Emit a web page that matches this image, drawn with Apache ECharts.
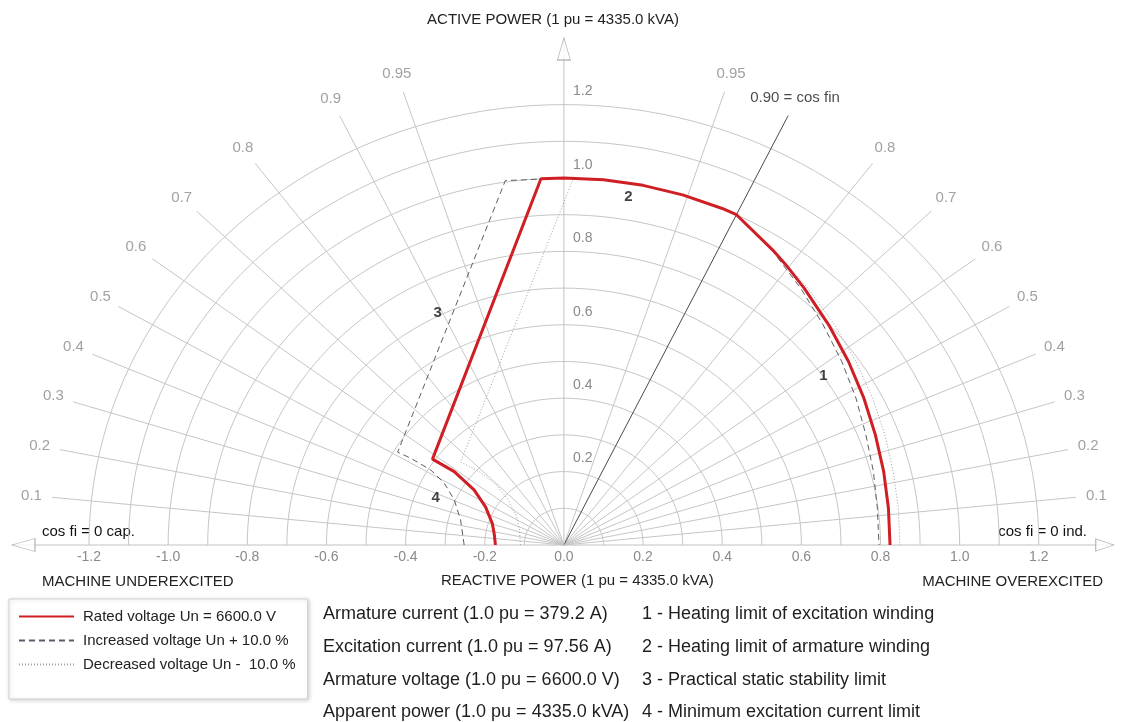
<!DOCTYPE html>
<html><head><meta charset="utf-8">
<script src="https://cdn.jsdelivr.net/npm/echarts@6/dist/echarts.min.js"></script>
<style>html,body{margin:0;padding:0;background:#fff}#c{width:1121px;height:722px}</style>
</head><body><div id="c"></div>
<script>
const FONT = '"Liberation Sans", Arial, sans-serif';

// ---- grid definition (pu) ----
const arcRadii = [0.1, 0.2, 0.3, 0.4, 0.5, 0.6, 0.7, 0.8, 0.9, 1.0, 1.1, 1.2];
const cosLeft = [0.1, 0.2, 0.3, 0.4, 0.5, 0.6, 0.7, 0.8, 0.9, 0.95];
const cosRight = [0.1, 0.2, 0.3, 0.4, 0.5, 0.6, 0.7, 0.8, 0.95];
const cosRatedValue = 0.90;
const cosLabelRight = '0.90 = cos fin';
const radialLength = 1.3;
const cosLabelRadius = 1.352;

// ---- capability curves [Q, P] in pu ----
const ratedCurve = [
  [-0.173, 0.000], [-0.176, 0.030], [-0.181, 0.059], [-0.198, 0.104], [-0.227, 0.150], [-0.277, 0.200], [-0.332, 0.234],
  [-0.058, 0.998], [0.000, 1.000], [0.100, 0.995], [0.200, 0.980], [0.300, 0.954], [0.400, 0.917], [0.436, 0.900],
  [0.531, 0.800], [0.565, 0.758], [0.607, 0.700], [0.669, 0.600], [0.719, 0.500], [0.758, 0.400], [0.787, 0.300],
  [0.808, 0.200], [0.820, 0.100], [0.824, 0.000]
];
const increasedCurve = [
  [-0.252, 0.000], [-0.261, 0.068], [-0.277, 0.123], [-0.302, 0.168], [-0.336, 0.204], [-0.386, 0.236], [-0.420, 0.253],
  [-0.148, 0.993], [-0.100, 0.995], [0.000, 1.000], [0.100, 0.995], [0.200, 0.980], [0.300, 0.954], [0.400, 0.917], [0.436, 0.900],
  [0.528, 0.800], [0.598, 0.700], [0.655, 0.600], [0.702, 0.500], [0.738, 0.400], [0.763, 0.300],
  [0.782, 0.200], [0.792, 0.100], [0.796, 0.000]
];
const decreasedCurve = [
  [-0.110, 0.000], [-0.112, 0.040], [-0.120, 0.080], [-0.142, 0.125], [-0.172, 0.165], [-0.214, 0.200], [-0.261, 0.226],
  [0.024, 0.999], [0.100, 0.995], [0.200, 0.980], [0.300, 0.954], [0.400, 0.917], [0.436, 0.900],
  [0.534, 0.800], [0.616, 0.700], [0.684, 0.600], [0.738, 0.500], [0.780, 0.400], [0.811, 0.300],
  [0.832, 0.200], [0.845, 0.100], [0.849, 0.000]
];
const curveNumbers = [['1', 0.656, 0.460], ['2', 0.163, 0.948], ['3', -0.319, 0.632], ['4', -0.324, 0.128]];

const seriesNames = ['Rated voltage Un = 6600.0 V', 'Increased voltage Un + 10.0 %', 'Decreased voltage Un -  10.0 %'];
const infoLines = ['Armature current (1.0 pu = 379.2 A)', 'Excitation current (1.0 pu = 97.56 A)',
  'Armature voltage (1.0 pu = 6600.0 V)', 'Apparent power (1.0 pu = 4335.0 kVA)'];
const limitLines = ['1 - Heating limit of excitation winding', '2 - Heating limit of armature winding',
  '3 - Practical static stability limit', '4 - Minimum excitation current limit'];

// ---- layout constants (pixels) ----
const GRID_LEFT = 9.8, GRID_TOP = 31.2, GRID_W = 1114.4, GRID_H = 587.2;
const ORIGIN_X = 567, ORIGIN_Y = 545;

// ---- build ----
const GRID_COLOR = '#c6c6c6';
const series = [];
function plain(data, color, width, type, z) {
  return { type: 'line', data: data, symbol: 'none', silent: true, clip: false, z: z,
    lineStyle: { color: color, width: width, type: type || 'solid' }, animation: false };
}
arcRadii.forEach(r => {
  const pts = [];
  for (let k = 0; k <= 180; k += 2) { const t = k * Math.PI / 180; pts.push([r * Math.cos(t), r * Math.sin(t)]); }
  series.push(plain(pts, GRID_COLOR, 1, 'solid', 1));
});
const cosLabelData = [];
function radial(c, side, color) {
  const s = Math.sqrt(1 - c * c);
  series.push(plain([[0, 0], [side * radialLength * s, radialLength * c]], color, 1, 'solid', 1));
}
cosLeft.forEach(c => { radial(c, -1, GRID_COLOR); const s = Math.sqrt(1 - c * c);
  cosLabelData.push([-cosLabelRadius * s, cosLabelRadius * c, String(c)]); });
cosRight.forEach(c => { radial(c, 1, GRID_COLOR); const s = Math.sqrt(1 - c * c);
  cosLabelData.push([cosLabelRadius * s, cosLabelRadius * c, String(c)]); });
radial(cosRatedValue, 1, '#4a4a4a');

// axes lines
series.push(plain([[-1.394, 0], [1.389, 0]], '#c2c2c2', 1, 'solid', 2));
series.push(plain([[0, 0], [0, 1.381]], '#c2c2c2', 1, 'solid', 2));
series.push({ type: 'scatter', silent: true, z: 3, animation: false,
  itemStyle: { color: '#fff', borderColor: '#a8a8a8', borderWidth: 1 },
  data: [
    { value: [0, 1.3515], symbol: 'triangle', symbolSize: [13, 22], symbolRotate: 0 },
    { value: [-1.3655, 0], symbol: 'triangle', symbolSize: [13, 23], symbolRotate: 90 },
    { value: [1.3665, 0], symbol: 'triangle', symbolSize: [12, 18], symbolRotate: -90 }
  ] });

// cos labels
series.push({ type: 'scatter', silent: true, z: 4, symbolSize: 1, itemStyle: { color: 'rgba(0,0,0,0)' },
  data: cosLabelData, animation: false,
  label: { show: true, position: 'inside', formatter: p => p.data[2], color: '#8a8a8a', fontSize: 15, fontFamily: FONT } });
series.push({ type: 'scatter', silent: true, z: 4, symbolSize: 1, itemStyle: { color: 'rgba(0,0,0,0)' },
  data: [[0.472, 1.218, cosLabelRight]], animation: false,
  label: { show: true, position: [0, 0], align: 'left', verticalAlign: 'middle', formatter: p => p.data[2],
    color: '#1a1a1a', fontSize: 15, fontFamily: FONT } });

// curves
series.push({ name: seriesNames[2], type: 'line', data: decreasedCurve, symbol: 'none', clip: false, z: 5, animation: false,
  lineStyle: { color: '#a0a0a0', width: 1, type: [1, 2] }, itemStyle: { color: '#a0a0a0' } });
series.push({ name: seriesNames[1], type: 'line', data: increasedCurve, symbol: 'none', clip: false, z: 6, animation: false,
  lineStyle: { color: '#5c5c68', width: 1, type: [6, 4] }, itemStyle: { color: '#5c5c68' } });
series.push({ name: seriesNames[0], type: 'line', data: ratedCurve, symbol: 'none', clip: false, z: 7, animation: false,
  lineStyle: { color: '#cf1f25', width: 3 }, itemStyle: { color: '#cf1f25' } });

// curve numbers
series.push({ type: 'scatter', silent: true, z: 8, symbolSize: 1, itemStyle: { color: 'rgba(0,0,0,0)' },
  data: curveNumbers.map(d => [d[1], d[2], d[0]]), animation: false,
  label: { show: true, position: 'inside', formatter: p => p.data[2], color: '#111', fontSize: 15, fontWeight: 'bold', fontFamily: FONT } });

const graphics = [
  { type: 'text', x: 553, y: 20, style: { text: 'ACTIVE POWER (1 pu = 4335.0 kVA)', fill: '#222', font: '15px ' + FONT, align: 'center', verticalAlign: 'middle' } },
  { type: 'text', x: 441, y: 581, style: { text: 'REACTIVE POWER (1 pu = 4335.0 kVA)', fill: '#222', font: '15px ' + FONT, align: 'left', verticalAlign: 'middle' } },
  { type: 'text', x: 42, y: 582, style: { text: 'MACHINE UNDEREXCITED', fill: '#222', font: '15px ' + FONT, align: 'left', verticalAlign: 'middle' } },
  { type: 'text', x: 1103, y: 582, style: { text: 'MACHINE OVEREXCITED', fill: '#222', font: '15px ' + FONT, align: 'right', verticalAlign: 'middle' } },
  { type: 'text', x: 42, y: 532, style: { text: 'cos fi = 0 cap.', fill: '#111', font: '15px ' + FONT, align: 'left', verticalAlign: 'middle' } },
  { type: 'text', x: 1087, y: 532, style: { text: 'cos fi = 0 ind.', fill: '#111', font: '15px ' + FONT, align: 'right', verticalAlign: 'middle' } }
];
const rowY = [614, 647, 680, 712];
infoLines.forEach((t, i) => graphics.push({ type: 'text', x: 323, y: rowY[i], style: { text: t, fill: '#1e1e1e', font: '18px ' + FONT, verticalAlign: 'middle' } }));
limitLines.forEach((t, i) => graphics.push({ type: 'text', x: 642, y: rowY[i], style: { text: t, fill: '#1e1e1e', font: '18px ' + FONT, verticalAlign: 'middle' } }));

const chart = echarts.init(document.getElementById('c'), null, { renderer: 'canvas' });
chart.setOption({
  animation: false,
  backgroundColor: '#fff',
  grid: { left: GRID_LEFT, top: GRID_TOP, width: GRID_W, height: GRID_H, containLabel: false },
  xAxis: { type: 'value', min: -1.4, max: 1.4, interval: 0.2, position: 'bottom',
    offset: ORIGIN_Y - (GRID_TOP + GRID_H),
    axisLine: { show: false, onZero: false }, axisTick: { show: false }, splitLine: { show: false },
    axisLabel: { margin: 5, color: '#8a8a8a', fontSize: 14, fontFamily: FONT,
      formatter: v => (Math.abs(v) > 1.3 ? '' : (Math.abs(v) < 1e-9 ? '0.0' : v.toFixed(1))) } },
  yAxis: { type: 'value', min: -0.2, max: 1.4, interval: 0.2, position: 'left',
    offset: GRID_LEFT - ORIGIN_X,
    axisLine: { show: false, onZero: false }, axisTick: { show: false }, splitLine: { show: false },
    axisLabel: { inside: true, margin: 6, verticalAlign: 'bottom', padding: [0, 0, 6, 0], color: '#8a8a8a', fontSize: 14, fontFamily: FONT,
      formatter: v => (v < 0.05 || v > 1.3 ? '' : v.toFixed(1)) } },
  legend: { show: true, data: seriesNames, orient: 'vertical', left: 9, top: 599, padding: [10, 12, 27, 9],
    itemWidth: 55, itemHeight: 14, itemGap: 9, selectedMode: false, backgroundColor: '#fff',
    itemStyle: { opacity: 0, borderWidth: 0 },
    borderColor: '#d2d2d2', borderWidth: 1, shadowBlur: 4, shadowColor: 'rgba(0,0,0,0.18)', shadowOffsetX: 1, shadowOffsetY: 1,
    textStyle: { fontSize: 15, color: '#222', fontFamily: FONT, padding: [0, 0, 0, 4] } },
  graphic: graphics,
  series: series
});
</script></body></html>
